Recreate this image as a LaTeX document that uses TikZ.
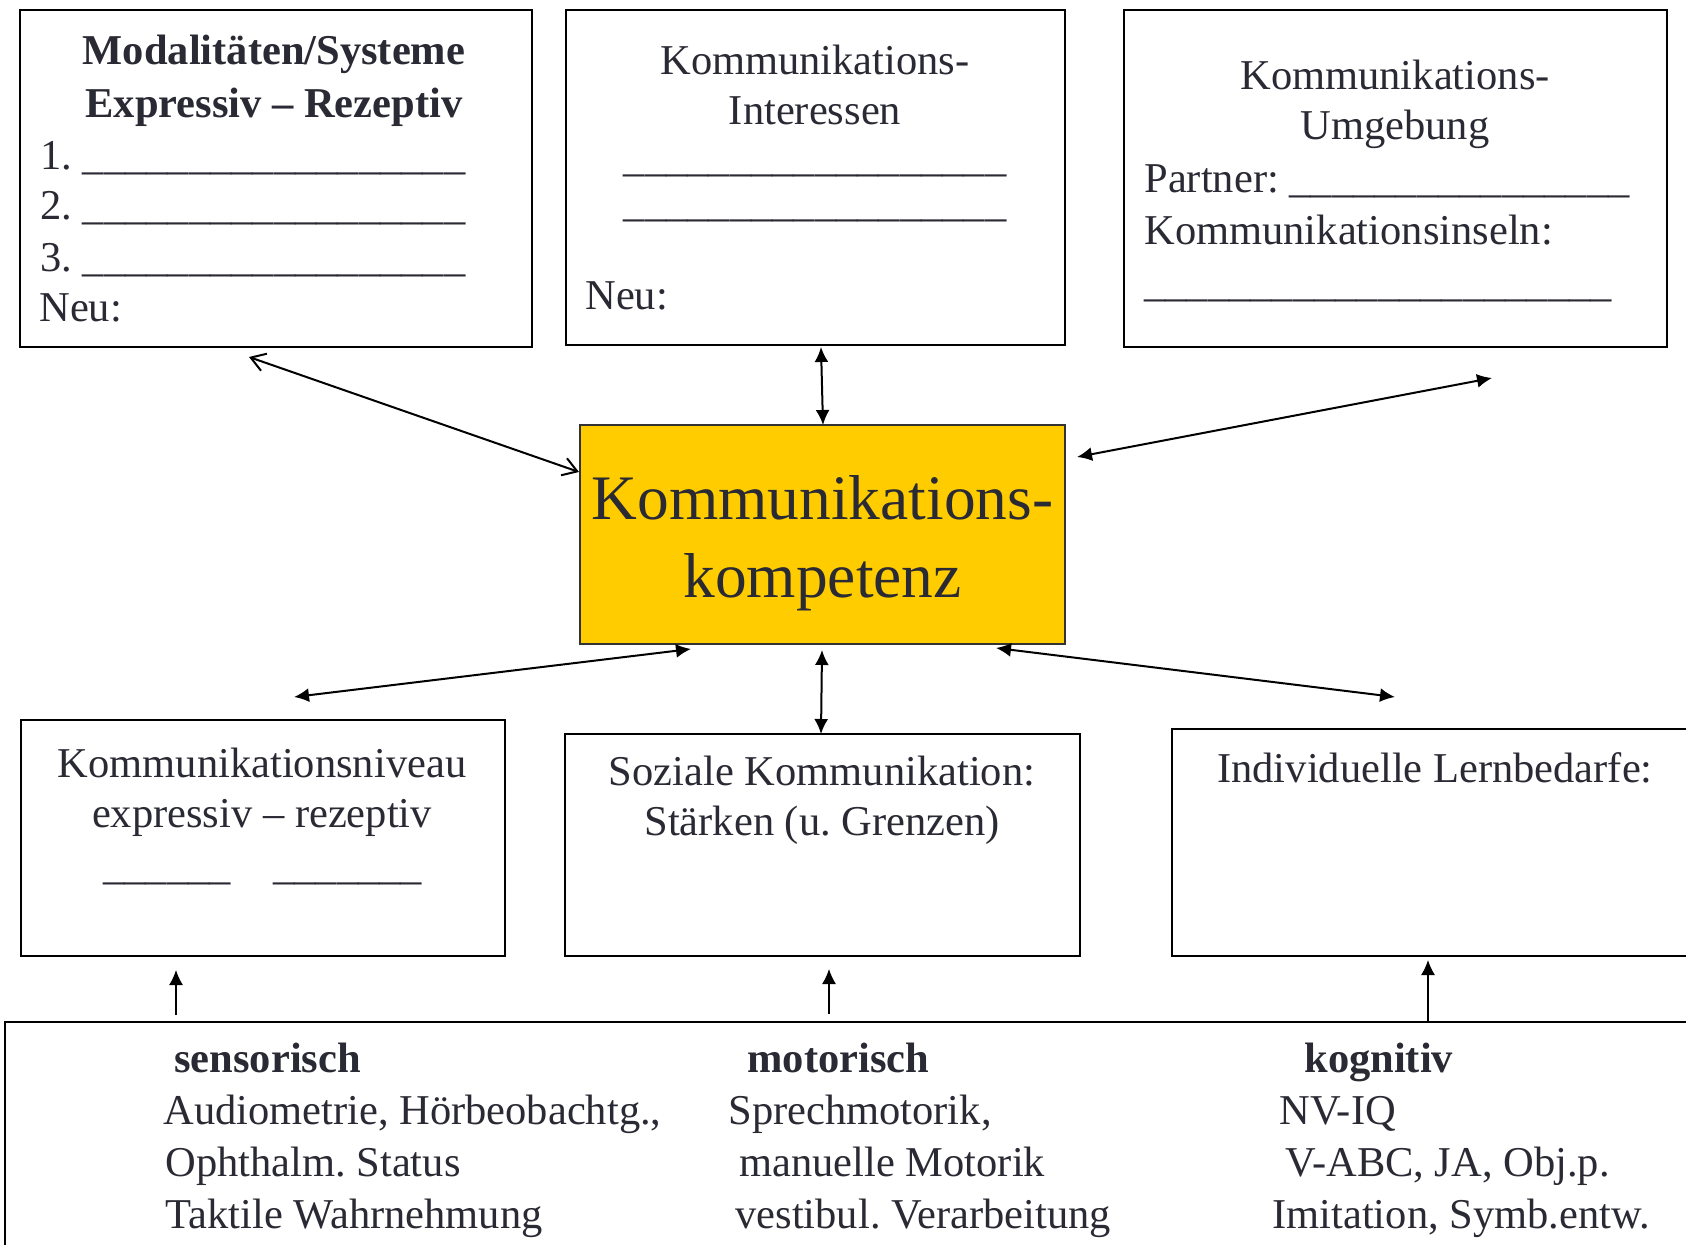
\documentclass[tikz,border=0pt]{standalone}
\usepackage{fontspec}
\setmainfont{Liberation Serif}
\usetikzlibrary{arrows.meta}
\definecolor{ink}{RGB}{42,42,52}
\definecolor{gold}{RGB}{255,204,0}
\ExplSyntaxOn
\cs_new:Npn \blanks #1 { \prg_replicate:nn {#1} { \textunderscore } }
\ExplSyntaxOff
\frenchspacing
\begin{document}
\begin{tikzpicture}[x=0.5pt, y=-0.5pt,
  box/.style={draw=black, line width=1pt, rectangle, inner sep=0pt, fill=white},
  core/.style={draw=black!80, line width=0.7pt, rectangle, inner sep=0pt, fill=gold},
  txt/.style={inner sep=0pt, text=ink, font=\fontsize{21.25pt}{25pt}\selectfont},
  bigtxt/.style={inner sep=0pt, text=ink, font=\fontsize{31.7pt}{38pt}\selectfont},
  link/.style={line width=1pt, {Latex[length=7.5pt,width=7pt]}-{Latex[length=7.5pt,width=7pt]}},
  openlink/.style={line width=1pt, {Straight Barb[length=7pt,width=9pt]}-{Straight Barb[length=7pt,width=9pt]}},
  feed/.style={line width=0.75pt, -{Latex[length=7.5pt,width=7pt]}}]
\useasboundingbox (0,0) rectangle (1686,1245);
\clip (0,0) rectangle (1686,1245);
\fill[white] (0,0) rectangle (1686,1245);

% boxes
\node[box, minimum width=256pt, minimum height=168.5pt] (b1) at (276,178.5) {};
\node[box, minimum width=249.5pt, minimum height=167.5pt] (b2) at (815.5,177.5) {};
\node[box, minimum width=271.5pt, minimum height=168.5pt] (b3) at (1395.5,178.5) {};
\node[core, minimum width=242.5pt, minimum height=109.5pt] (c) at (822.5,534.5) {};
\node[box, minimum width=242pt, minimum height=118pt] (b4) at (263,838) {};
\node[box, minimum width=257.5pt, minimum height=111pt] (b5) at (822.5,845) {};
\node[box, minimum width=263pt, minimum height=113.5pt] (b6) at (1435,842.5) {};
\node[box, minimum width=847.5pt, minimum height=119pt] (b7) at (852.5,1141) {};

% modalities
\node[txt, anchor=base, font=\fontsize{21.25pt}{25pt}\selectfont\bfseries] (t1a) at (274,65) {Modalitäten/Systeme};
\node[txt, anchor=base, font=\fontsize{21.25pt}{25pt}\selectfont\bfseries] (t1b) at (274,118) {Expressiv – Rezeptiv};
\node[txt, anchor=base west] (t1c) at (40,170) {1. \blanks{18}};
\node[txt, anchor=base west] (t1d) at (40,220) {2. \blanks{18}};
\node[txt, anchor=base west] (t1e) at (40,272) {3. \blanks{18}};
\node[txt, anchor=base west] (t1f) at (39,322) {Neu:};

% interests
\node[txt, anchor=base] (t2a) at (815,75) {Kommunikations-};
\node[txt, anchor=base] (t2b) at (815,125) {Interessen};
\node[txt, anchor=base] (t2c) at (815,172) {\blanks{18}};
\node[txt, anchor=base] (t2d) at (815,217) {\blanks{18}};
\node[txt, anchor=base west] (t2e) at (585,310) {Neu:};

% environment
\node[txt, anchor=base] (t3a) at (1395,90) {Kommunikations-};
\node[txt, anchor=base] (t3b) at (1395,140) {Umgebung};
\node[txt, anchor=base west] (t3c) at (1144,193) {Partner: \blanks{16}};
\node[txt, anchor=base west] (t3d) at (1144,245) {Kommunikationsinseln:};
\node[txt, anchor=base west] (t3e) at (1144,297) {\blanks{22}};

% centre
\node[bigtxt, anchor=base] (tca) at (822.5,520) {Kommunikations-};
\node[bigtxt, anchor=base] (tcb) at (822.5,597) {kompetenz};

% level
\node[txt, anchor=base] (t4a) at (262,777) {Kommunikationsniveau};
\node[txt, anchor=base] (t4b) at (262,827) {expressiv – rezeptiv};
\node[txt, anchor=base west] (t4c) at (103,879) {\blanks{6}};
\node[txt, anchor=base west] (t4d) at (273,879) {\blanks{7}};

% social
\node[txt, anchor=base] (t5a) at (822,785) {Soziale Kommunikation:};
\node[txt, anchor=base] (t5b) at (822,835) {Stärken (u. Grenzen)};

% needs
\node[txt, anchor=base] (t6a) at (1435,782) {Individuelle Lernbedarfe:};

% foundations
\node[txt, anchor=base west, font=\fontsize{21.25pt}{25pt}\selectfont\bfseries] (s0) at (174,1072) {sensorisch};
\node[txt, anchor=base west] (s1) at (163,1124) {Audiometrie, Hörbeobachtg.,};
\node[txt, anchor=base west] (s2) at (165,1176) {Ophthalm. Status};
\node[txt, anchor=base west] (s3) at (165,1228) {Taktile Wahrnehmung};
\node[txt, anchor=base west, font=\fontsize{21.25pt}{25pt}\selectfont\bfseries] (m0) at (747,1072) {motorisch};
\node[txt, anchor=base west] (m1) at (728,1124) {Sprechmotorik,};
\node[txt, anchor=base west] (m2) at (739,1176) {manuelle Motorik};
\node[txt, anchor=base west] (m3) at (735,1228) {vestibul. Verarbeitung};
\node[txt, anchor=base west, font=\fontsize{21.25pt}{25pt}\selectfont\bfseries] (k0) at (1304,1072) {kognitiv};
\node[txt, anchor=base west] (k1) at (1279,1124) {NV-IQ};
\node[txt, anchor=base west] (k2) at (1285,1176) {V-ABC, JA, Obj.p.};
\node[txt, anchor=base west] (k3) at (1272,1228) {Imitation, Symb.entw.};

% connector ends
\coordinate (a1s) at (249,357);   \coordinate (a1e) at (579,472);
\coordinate (a2s) at (821,347);   \coordinate (a2e) at (823,425);
\coordinate (a3s) at (1077,457);  \coordinate (a3e) at (1492,378);
\coordinate (a4s) at (294,697);   \coordinate (a4e) at (691,649);
\coordinate (a5s) at (822,650);   \coordinate (a5e) at (821,734);
\coordinate (a6s) at (996,648);   \coordinate (a6e) at (1395,697);
\coordinate (u1s) at (176,1015);  \coordinate (u1e) at (176,970);
\coordinate (u2s) at (829,1014);  \coordinate (u2e) at (829,969);
\coordinate (u3s) at (1428,1022); \coordinate (u3e) at (1428,960);

\draw[openlink] (a1s) -- (a1e);
\draw[link] (a2s) -- (a2e);
\draw[link] (a3s) -- (a3e);
\draw[link] (a4s) -- (a4e);
\draw[link] (a5s) -- (a5e);
\draw[link] (a6s) -- (a6e);
\draw[feed] (u1s) -- (u1e);
\draw[feed] (u2s) -- (u2e);
\draw[feed] (u3s) -- (u3e);
\end{tikzpicture}
\end{document}
